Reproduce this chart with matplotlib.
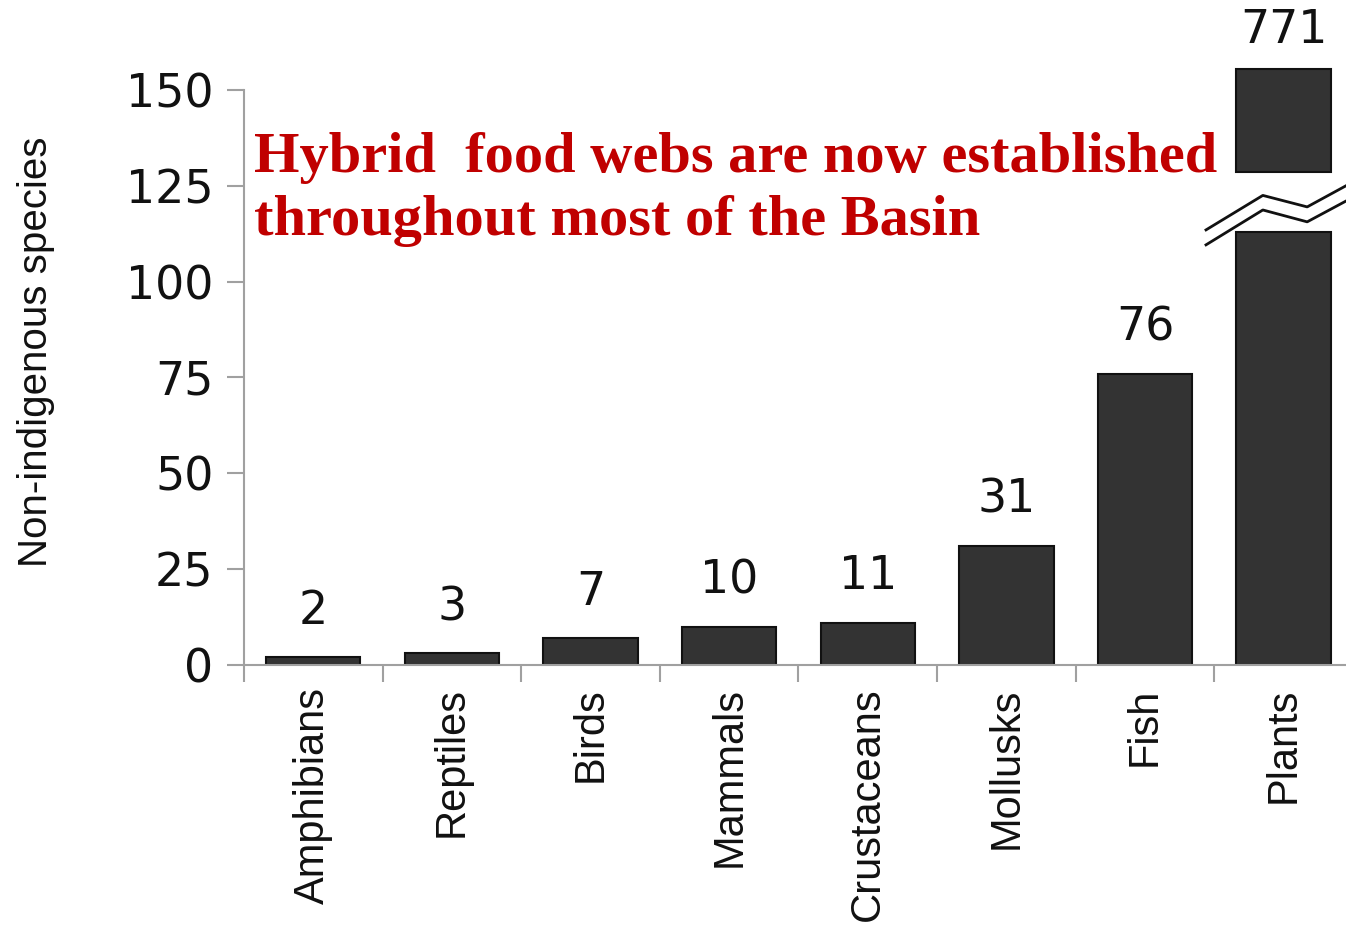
import numpy as np
import matplotlib.pyplot as plt
from matplotlib.ticker import FixedLocator

# data
categories = ['Amphibians', 'Reptiles', 'Birds', 'Mammals', 'Crustaceans', 'Mollusks', 'Fish', 'Plants']
values = [2, 3, 7, 10, 11, 31, 76, 771]
break_low = 113      # plotted height of the broken bar below the break
break_box = (128.6, 155.5)   # upper stub of the broken bar
title_lines = ['Hybrid  food webs are now established', 'throughout most of the Basin']

plt.rcParams['font.family'] = ['Liberation Sans', 'DejaVu Sans']

fig = plt.figure(figsize=(13.46, 9.26), dpi=100)
ax = fig.add_axes([0.1813, 0.2819, 0.8187, 0.7037])

x = np.arange(len(categories))
heights = [v if v < 150 else break_low for v in values]
ax.bar(x, heights, width=0.68, color='#333333', edgecolor='#111111', linewidth=1.5, zorder=2)

# upper stub of the broken Plants bar
ax.bar(x[-1], break_box[1] - break_box[0], bottom=break_box[0], width=0.68,
       color='#333333', edgecolor='#111111', linewidth=1.5, zorder=2, clip_on=False)

# break marks
bx = [6.44, 6.85, 7.17, 7.5]
up = [113.5, 122.5, 119.5, 126.0]
lo = [109.6, 118.7, 115.6, 122.0]
ax.fill_between(bx, lo, up, color='white', zorder=3, clip_on=False)
ax.plot(bx, up, color='#111111', lw=2, zorder=4, clip_on=False)
ax.plot(bx, lo, color='#111111', lw=2, zorder=4, clip_on=False)

# value labels
num_font = ['DejaVu Sans']
for i, v in enumerate(values):
    top = heights[i] if v < 150 else break_box[1]
    off = 33 if v < 150 else 28
    ax.annotate(str(v), (x[i], top), xytext=(0, off), textcoords='offset points',
                ha='center', va='center', fontsize=33, color='#111111',
                family=num_font, annotation_clip=False)

ax.set_xlim(-0.5, 7.45)
ax.set_ylim(0, 170)
ax.spines['top'].set_visible(False)
ax.spines['right'].set_visible(False)
ax.spines['left'].set_bounds(0, 150)
for s in ('left', 'bottom'):
    ax.spines[s].set_color('#a0a0a0')
    ax.spines[s].set_linewidth(1.5)

ax.set_yticks([0, 25, 50, 75, 100, 125, 150])
ax.set_yticklabels(['0', '25', '50', '75', '100', '125', '150'], family=num_font)
ax.tick_params(axis='y', length=12, width=1.5, color='#a0a0a0', labelsize=33, pad=10, labelcolor='#111111')
ax.set_xticks(x)
ax.set_xticklabels(categories, rotation=90, fontsize=30, color='#111111')
ax.tick_params(axis='x', which='major', length=0, pad=16)
ax.xaxis.set_minor_locator(FixedLocator(np.arange(-0.5, 7, 1.0)))
ax.tick_params(axis='x', which='minor', length=12, width=1.5, color='#a0a0a0')

fig.text(0.027, 0.62, 'Non-indigenous species', rotation=90, ha='center', va='center',
         fontsize=29, color='#111111')

serif = ['Liberation Serif', 'DejaVu Serif']
ax.text(0.0095, 0.7566, title_lines[0], transform=ax.transAxes, ha='left', va='baseline',
        fontsize=42, fontweight='bold', color='#c00000', family=serif, zorder=5)
ax.text(0.0095, 0.6599, title_lines[1], transform=ax.transAxes, ha='left', va='baseline',
        fontsize=42, fontweight='bold', color='#c00000', family=serif, zorder=5)

fig.savefig('out.png', dpi=100)
